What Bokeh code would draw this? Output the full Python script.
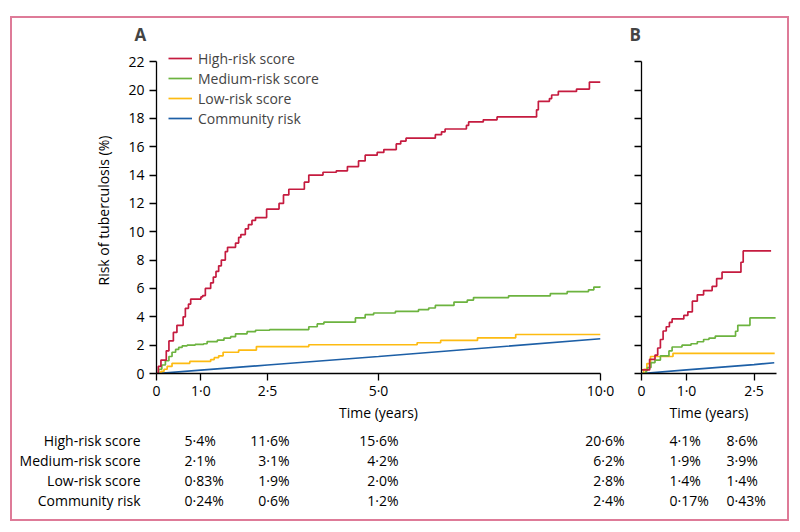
from bokeh.plotting import figure
from bokeh.models import (Range1d, FixedTicker, CustomJSTickFormatter, Legend,
                          LegendItem)
from bokeh.layouts import row, column
from bokeh.core.properties import value
from bokeh.embed import file_html
from bokeh.resources import INLINE

# ---------------- data ----------------
series_names = ["High-risk score", "Medium-risk score", "Low-risk score", "Community risk"]
series_colors = ["#c51b3f", "#6cb33f", "#fdbb12", "#1d5fa6"]

# Panel A (years, cumulative risk %)
high_a_t = [0, 0.04, 0.1, 0.22, 0.28, 0.38, 0.46, 0.6, 0.65, 0.72, 0.77, 1.0, 1.04, 1.1, 1.22,
            1.28, 1.34, 1.4, 1.46, 1.55, 1.6, 1.78, 1.85, 1.9, 2.0, 2.07, 2.15, 2.23, 2.48,
            2.76, 2.86, 2.98, 3.33, 3.43, 3.75, 4.05, 4.3, 4.55, 4.7, 4.97, 5.12, 5.4, 5.5,
            5.62, 6.28, 6.42, 6.5, 6.98, 7.03, 7.36, 7.67, 8.56, 8.6, 8.85, 8.9, 9.05, 9.46,
            9.75, 10.0]
high_a_v = [0, 0.5, 0.95, 1.6, 2.3, 2.9, 3.4, 4.0, 4.6, 4.9, 5.25, 5.4, 5.5, 6.0, 6.4,
            6.8, 7.2, 7.6, 8.0, 8.6, 8.9, 9.2, 9.6, 9.8, 10.2, 10.5, 10.8, 11.0, 11.6,
            12.0, 12.6, 13.0, 13.5, 14.0, 14.2, 14.3, 14.6, 15.0, 15.4, 15.6, 15.8, 16.2, 16.4,
            16.6, 16.85, 17.05, 17.25, 17.5, 17.75, 17.9, 18.1, 18.6, 19.2, 19.4, 19.65, 19.9, 20.07,
            20.56, 20.56]
medium_a_t = [0, 0.05, 0.12, 0.2, 0.28, 0.35, 0.43, 0.5, 0.58, 0.69, 0.87, 1.06, 1.14, 1.37,
              1.52, 1.67, 1.78, 2.04, 2.23, 2.55, 3.43, 3.62, 3.77, 4.48, 4.7, 4.89, 5.38,
              5.9, 6.13, 6.28, 6.7, 7.0, 7.14, 7.93, 8.87, 9.25, 9.73, 9.85, 10.0]
medium_a_v = [0, 0.3, 0.6, 0.9, 1.2, 1.5, 1.7, 1.85, 1.95, 2.0, 2.05, 2.1, 2.25, 2.35,
              2.5, 2.6, 2.8, 2.95, 3.05, 3.1, 3.3, 3.5, 3.62, 3.92, 4.15, 4.27, 4.38,
              4.5, 4.62, 4.8, 5.04, 5.18, 5.36, 5.48, 5.64, 5.78, 5.9, 6.1, 6.18]
low_a_t = [0, 0.1, 0.17, 0.24, 0.35, 0.75, 1.22, 1.3, 1.4, 1.5, 1.85, 2.25, 3.43, 5.87,
           6.4, 7.23, 8.09, 10.0]
low_a_v = [0, 0.15, 0.3, 0.5, 0.72, 0.85, 0.98, 1.12, 1.25, 1.5, 1.65, 1.9, 2.03, 2.17,
           2.33, 2.52, 2.75, 2.75]
community_a_t = [0, 1, 2.5, 5, 10]
community_a_v = [0, 0.24, 0.6, 1.2, 2.45]

# Panel B
high_b_t = [0, 0.18, 0.3, 0.36, 0.42, 0.48, 0.55, 0.62, 0.68, 0.94, 1.03, 1.13, 1.24, 1.38,
            1.57, 1.67, 1.79, 2.21, 2.26, 2.88]
high_b_v = [0.25, 1.0, 1.3, 1.8, 2.4, 3.0, 3.3, 3.6, 3.85, 4.1, 4.35, 5.1, 5.55, 5.85,
            6.15, 6.7, 7.15, 7.85, 8.65, 8.65]
medium_b_t = [0, 0.1, 0.13, 0.21, 0.3, 0.42, 0.61, 0.68, 0.9, 1.1, 1.24, 1.38, 1.5, 1.64,
              2.09, 2.14, 2.41, 2.98]
medium_b_v = [0, 0.2, 0.42, 0.77, 0.95, 1.24, 1.59, 1.87, 2.0, 2.1, 2.24, 2.4, 2.5, 2.64,
              2.98, 3.4, 3.92, 3.92]
low_b_t = [0, 0.05, 0.12, 0.2, 0.7, 2.96]
low_b_v = [0, 0.3, 0.7, 1.2, 1.42, 1.42]
community_b_t = [0, 1.0, 2.5, 2.95]
community_b_v = [0, 0.25, 0.63, 0.76]

x_ticks_a = [0, 1, 2.5, 5, 10]
x_ticks_b = [0, 1, 2.5]
y_ticks = list(range(0, 23, 2))

# table (risk %)
table_a_1 = [5.4, 2.1, 0.83, 0.24]
table_a_25 = [11.6, 3.1, 1.9, 0.6]
table_a_5 = [15.6, 4.2, 2.0, 1.2]
table_a_10 = [20.6, 6.2, 2.8, 2.4]
table_b_1 = [4.1, 1.9, 1.4, 0.17]
table_b_25 = [8.6, 3.9, 1.4, 0.43]

FONT = "Open Sans"
FS = "14px"
LW = 1.7
Y_TOP = 23.0   # frame reaches a little above the last tick (axis line bounded at 22)

tick_fmt = CustomJSTickFormatter(code="return tick == 0 ? '0' : tick.toFixed(1).replace('.', '\u00b7');")


def style(p, show_y_labels):
    p.xgrid.visible = False
    p.ygrid.visible = False
    p.outline_line_color = None
    for ax in (p.xaxis[0], p.yaxis[0]):
        ax.axis_line_color = "black"
        ax.axis_line_width = 1.3
        ax.major_tick_line_color = "black"
        ax.major_tick_line_width = 1.3
        ax.major_tick_out = 7
        ax.major_tick_in = 0
        ax.minor_tick_line_color = None
        ax.major_label_text_font = FONT
        ax.major_label_text_font_size = FS
        ax.major_label_text_color = "black"
        ax.axis_label_text_font = FONT
        ax.axis_label_text_font_size = FS
        ax.axis_label_text_font_style = "normal"
        ax.axis_label_text_color = "black"
    p.xaxis.major_label_standoff = 0
    p.xaxis.axis_label = "Time (years)"
    p.xaxis.axis_label_standoff = 0
    p.xaxis.formatter = tick_fmt
    p.yaxis.ticker = FixedTicker(ticks=y_ticks)
    p.yaxis.bounds = (0, 22)
    p.yaxis.major_label_standoff = 5
    if show_y_labels:
        p.yaxis.axis_label = "Risk of tuberculosis (%)"
        p.yaxis.axis_label_standoff = 12
    else:
        p.yaxis.formatter = CustomJSTickFormatter(code="return '';")
    p.title.text_font = FONT
    p.title.text_font_size = "17px"
    p.title.text_font_style = "bold"
    p.title.align = "left"
    p.title.vertical_align = "bottom"
    p.title.standoff = 4


# ---------------- panel A ----------------
pa = figure(width=608, height=407, x_range=Range1d(0, 10), y_range=Range1d(0, Y_TOP),
            title="A", output_backend="svg", toolbar_location=None,
            min_border_left=144, min_border_right=20, min_border_top=26, min_border_bottom=52)
style(pa, True)
pa.xaxis.ticker = FixedTicker(ticks=x_ticks_a)
pa.title.offset = -22

a_data = [(high_a_t, high_a_v), (medium_a_t, medium_a_v), (low_a_t, low_a_v)]
rend = {}
rend[3] = pa.line(community_a_t, community_a_v, line_color=series_colors[3], line_width=LW)
for i in (2, 1, 0):
    t, v = a_data[i]
    rend[i] = pa.step(t, v, mode="after", line_color=series_colors[i], line_width=LW)

legend = Legend(items=[LegendItem(label=series_names[i], renderers=[rend[i]]) for i in range(4)],
                location=(12, 245), padding=0, margin=0, spacing=0,
                glyph_width=24, glyph_height=20, label_height=20, label_standoff=6,
                label_text_font=FONT, label_text_font_size=FS,
                border_line_color=None, background_fill_alpha=0)
pa.add_layout(legend)

# ---------------- panel B ----------------
pb = figure(width=167, height=407, x_range=Range1d(0, 3), y_range=Range1d(0, Y_TOP),
            title="B", output_backend="svg", toolbar_location=None,
            min_border_left=21, min_border_right=11, min_border_top=26, min_border_bottom=52)
style(pb, False)
pb.xaxis.ticker = FixedTicker(ticks=x_ticks_b)
pb.title.offset = -12

pb.line(community_b_t, community_b_v, line_color=series_colors[3], line_width=LW)
b_data = [(high_b_t, high_b_v), (medium_b_t, medium_b_v), (low_b_t, low_b_v)]
for i in (2, 1, 0):
    t, v = b_data[i]
    pb.step(t, v, mode="after", line_color=series_colors[i], line_width=LW)

# ---------------- table ----------------
pt = figure(width=775, height=94, x_range=Range1d(0, 775), y_range=Range1d(94, 0),
            x_axis_type=None, y_axis_type=None, output_backend="svg", toolbar_location=None,
            min_border=0)
pt.xgrid.visible = False
pt.ygrid.visible = False
pt.outline_line_color = None

row_y = [15, 35, 55, 75]


def fmt(v):
    return str(v).replace(".", "\u00b7") + "%"


txt = dict(text_font=value(FONT), text_font_size=FS, text_color="black",
           text_baseline="middle")
pt.text(x=[128] * 4, y=row_y, text=series_names, text_align="right", **txt)
columns = [(table_a_1, 172, "left"), (table_a_25, 277, "right"), (table_a_5, 386, "right"),
           (table_a_10, 612, "right"), (table_b_1, 657, "left"), (table_b_25, 714, "left")]
for vals, xc, al in columns:
    pt.text(x=[xc] * 4, y=row_y, text=[fmt(v) for v in vals], text_align=al, **txt)

layout = column(row(pa, pb), pt, styles={"border": "2px solid #de7b98"}, margin=(16, 0, 0, 10))

open("out.html", "w", encoding="utf-8").write(file_html(layout, INLINE))
